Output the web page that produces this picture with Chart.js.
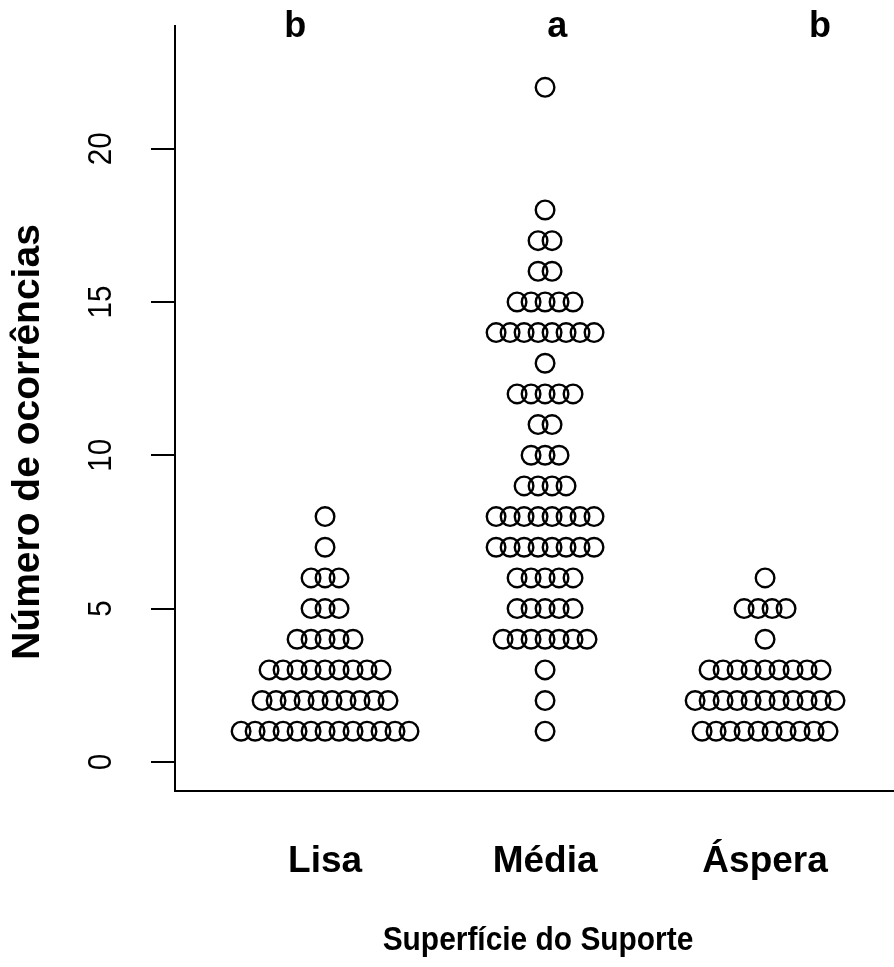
<!DOCTYPE html>
<html>
<head>
<meta charset="utf-8">
<script src="https://cdn.jsdelivr.net/npm/chart.js@4.4.0/dist/chart.umd.min.js"></script>
<style>
  html, body { margin: 0; background: #fff; }
  #wrap { width: 894px; height: 967px; position: relative; }
</style>
</head>
<body>
<div id="wrap"><canvas id="c"></canvas></div>
<script>
// categories and significance letters
const categories = ["Lisa", "Média", "Áspera"];
const groupLetters = ["b", "a", "b"];

// observed values and how many times each occurs, per group
const lisaValues = [1, 2, 3, 4, 5, 6, 7, 8];
const lisaCounts = [13, 10, 9, 5, 3, 3, 1, 1];
const mediaValues = [1, 2, 3, 4, 5, 6, 7, 8, 9, 10, 11, 12, 13, 14, 15, 16, 17, 18, 22];
const mediaCounts = [1, 1, 1, 7, 5, 5, 8, 8, 4, 3, 2, 5, 1, 8, 5, 2, 2, 1, 1];
const asperaValues = [1, 2, 3, 4, 5, 6];
const asperaCounts = [10, 11, 9, 1, 4, 1];

const yTicks = [0, 5, 10, 15, 20];

const FONT = "'Liberation Sans', Arial, sans-serif";
const SPREAD = 0.0636; // horizontal gap between stacked points (beeswarm)

// spread points of equal value side by side around the group centre
function swarm(center, values, counts) {
  const pts = [];
  values.forEach((v, k) => {
    const n = counts[k];
    for (let i = 0; i < n; i++) {
      pts.push({ x: center + (i - (n - 1) / 2) * SPREAD, y: v });
    }
  });
  return pts;
}

const groups = [
  swarm(1, lisaValues, lisaCounts),
  swarm(2, mediaValues, mediaCounts),
  swarm(3, asperaValues, asperaCounts)
];

const textPlugin = {
  id: "rText",
  afterDraw(chart) {
    const ctx = chart.ctx;
    const xs = chart.scales.x;
    const ys = chart.scales.y;
    ctx.save();
    ctx.fillStyle = "#000";
    ctx.textAlign = "center";
    ctx.textBaseline = "middle";

    // rotated y tick labels (slightly condensed)
    ctx.font = "33px " + FONT;
    yTicks.forEach(v => {
      ctx.save();
      ctx.translate(102, ys.getPixelForValue(v));
      ctx.rotate(-Math.PI / 2);
      ctx.scale(0.9, 1);
      ctx.fillText(String(v), 0, 0);
      ctx.restore();
    });

    // letters above the groups
    const letterAt = [0.864, 2.055, 3.25];
    ctx.font = "bold 36px " + FONT;
    groupLetters.forEach((t, i) => {
      ctx.fillText(t, xs.getPixelForValue(letterAt[i]), 27);
    });

    // category labels
    ctx.font = "bold 37px " + FONT;
    categories.forEach((t, i) => {
      ctx.fillText(t, xs.getPixelForValue(i + 1), 862);
    });

    // axis titles
    ctx.save();
    ctx.translate(538, 941);
    ctx.scale(0.92, 1);
    ctx.font = "bold 32.5px " + FONT;
    ctx.fillText("Superfície do Suporte", 0, 0);
    ctx.restore();

    ctx.save();
    ctx.translate(28, 442);
    ctx.rotate(-Math.PI / 2);
    ctx.font = "bold 39px " + FONT;
    ctx.fillText("Número de ocorrências", 0, 0);
    ctx.restore();

    ctx.restore();
  }
};

new Chart(document.getElementById("c").getContext("2d"), {
  type: "scatter",
  data: {
    datasets: groups.map((pts, i) => ({
      label: categories[i],
      data: pts,
      pointStyle: "circle",
      pointRadius: 9.3,
      pointHoverRadius: 9.3,
      borderColor: "#000",
      backgroundColor: "rgba(0,0,0,0)",
      borderWidth: 2.4,
      clip: false
    }))
  },
  options: {
    responsive: true,
    maintainAspectRatio: false,
    animation: false,
    layout: { autoPadding: false, padding: { left: 151, top: 26, right: 0, bottom: 176 } },
    plugins: {
      legend: { display: false },
      tooltip: { enabled: false }
    },
    scales: {
      x: {
        type: "linear",
        min: 0.318,
        max: 3.586,
        grid: { display: false },
        border: { display: true, color: "#000", width: 2 },
        ticks: { display: false },
        afterFit: s => { s.height = 0; }
      },
      y: {
        min: -0.95,
        max: 24,
        afterBuildTicks: s => { s.ticks = yTicks.map(v => ({ value: v })); },
        grid: {
          drawOnChartArea: false,
          drawTicks: true,
          tickLength: 24,
          color: "#000",
          lineWidth: 2
        },
        border: { display: true, color: "#000", width: 2 },
        ticks: { display: false },
        afterFit: s => { s.width = 24; }
      }
    }
  },
  plugins: [textPlugin]
});
</script>
</body>
</html>
